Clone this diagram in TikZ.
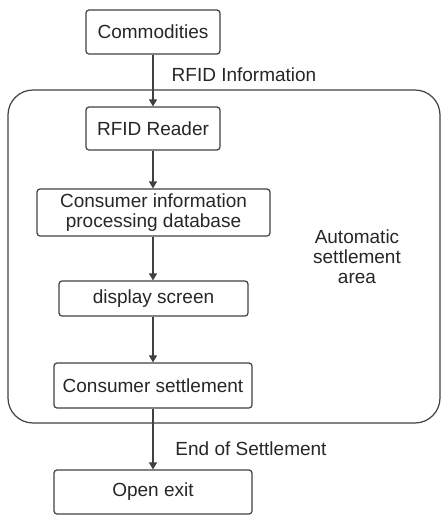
\documentclass[tikz,border=0pt]{standalone}
\usepackage{fontspec}
\setmainfont{Liberation Sans}
\usetikzlibrary{arrows.meta}
\begin{document}
\begin{tikzpicture}[x=1pt,y=-1pt,
  font=\fontsize{19}{20}\selectfont,
  every node/.style={text=black!85},
  box/.style={draw=black!75, line width=1.2pt, rounded corners=3pt, inner sep=0pt, align=center},
  arr/.style={draw=black!75, line width=1.2pt, -{Triangle[length=7pt,width=8pt]}},
  lbl/.style={inner sep=0pt, align=center}]
\useasboundingbox (0,0) rectangle (441,515);
\node[draw=black!75, line width=1.2pt, rounded corners=25pt, minimum width=432pt, minimum height=333pt, inner sep=0pt] (area) at (224,256.5) {};
\node[box, minimum width=134pt, minimum height=44pt] (comm) at (153,32) {Commodities};
\node[box, minimum width=134pt, minimum height=43pt] (reader) at (153,128.5) {RFID Reader};
\node[box, minimum width=233pt, minimum height=47pt] (db) at (153.5,212.5) {Consumer information\\processing database};
\node[box, minimum width=189pt, minimum height=35pt] (disp) at (153.5,298.5) {display screen};
\node[box, minimum width=198pt, minimum height=45pt] (settle) at (153,385.5) {Consumer settlement};
\node[box, minimum width=198pt, minimum height=44pt] (exit) at (153,492) {Open exit};
\node[lbl] (rfidinfo) at (244,75) {RFID Information};
\node[lbl] (endset) at (251,449) {End of Settlement};
\node[lbl] (autoarea) at (357,257) {Automatic\\settlement\\area};
\draw[arr] (comm.south -| 153,0) -- (reader.north -| 153,0);
\draw[arr] (reader.south -| 153,0) -- (db.north -| 153,0);
\draw[arr] (db.south -| 153,0) -- (disp.north -| 153,0);
\draw[arr] (disp.south -| 153,0) -- (settle.north -| 153,0);
\draw[arr] (settle.south -| 153,0) -- (exit.north -| 153,0);
\end{tikzpicture}
\end{document}
